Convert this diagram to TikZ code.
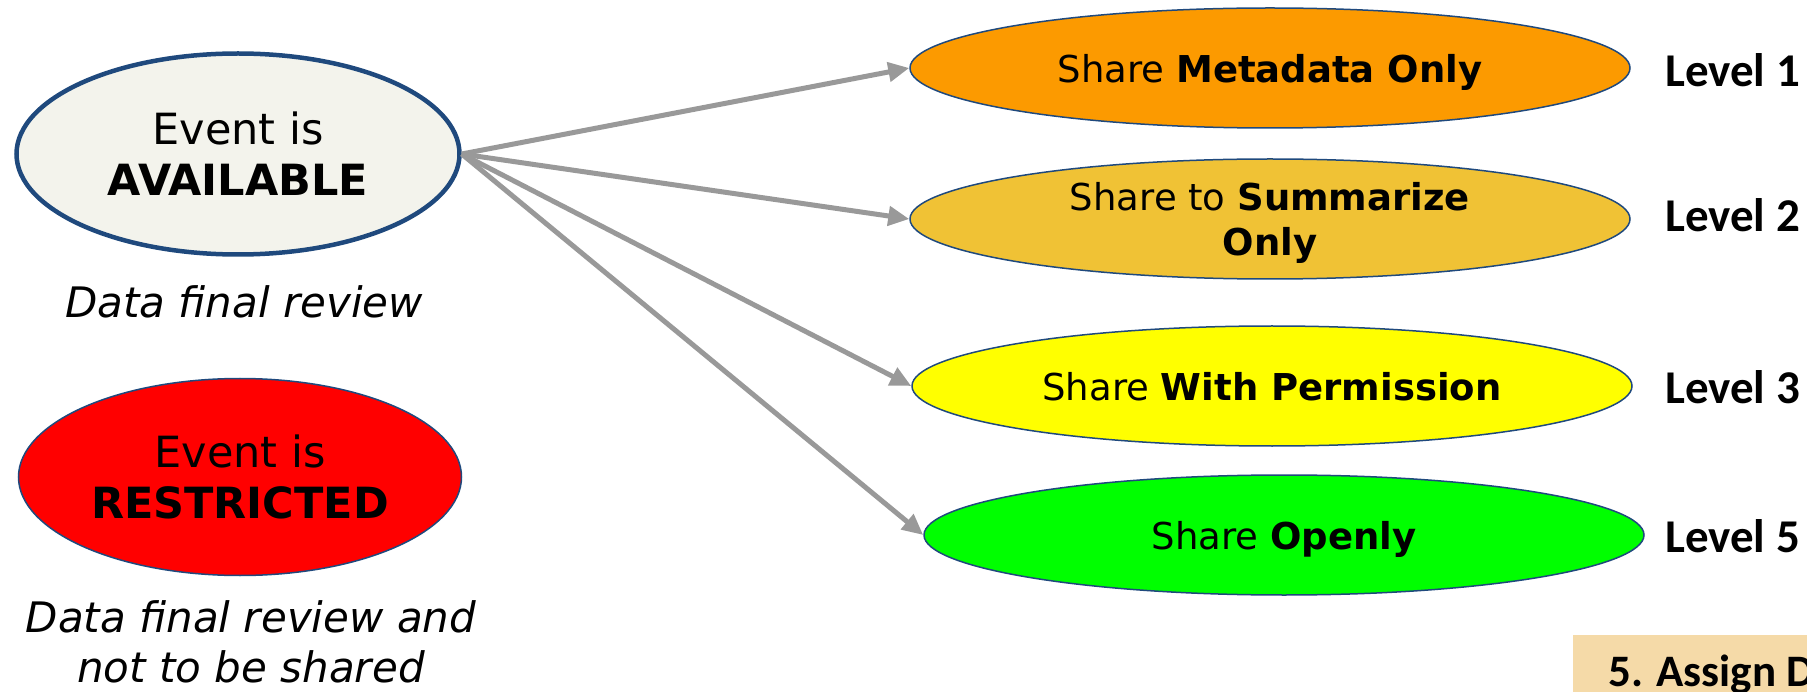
\documentclass[tikz,border=0pt]{standalone}
\usepackage{fontspec}
\setmainfont{DejaVu Sans}
\newfontfamily\calfont{Carlito}
\usetikzlibrary{shapes.geometric,arrows.meta}
\definecolor{bordblue}{HTML}{1F497D}
\definecolor{availfill}{HTML}{F3F3EC}
\definecolor{arrowgray}{HTML}{999999}
\definecolor{metaorange}{HTML}{FC9A00}
\definecolor{summgold}{HTML}{F0C235}
\definecolor{permyellow}{HTML}{FFFF00}
\definecolor{opengreen}{HTML}{00FF00}
\definecolor{boxtan}{HTML}{F5DAA8}
\begin{document}
\begin{tikzpicture}[x=1pt,y=-1pt,
  evt/.style={ellipse, draw=bordblue, line width=1.5pt, inner sep=0pt, align=center,
    font=\fontsize{43}{51}\selectfont},
  share/.style={ellipse, draw=bordblue, line width=1.5pt, minimum width=720pt,
    minimum height=120pt, inner sep=0pt, align=center, text depth=0pt,
    font=\fontsize{37}{45}\selectfont},
  lvl/.style={anchor=west, inner sep=0pt, font=\calfont\bfseries\fontsize{47}{56}\selectfont},
  capt/.style={align=center, inner sep=0pt, font=\itshape\fontsize{42}{50}\selectfont},
  arr/.style={draw=arrowgray, line width=5pt, -{Triangle[length=21pt,width=19pt]}}
]
\useasboundingbox (0,0) rectangle (1807,692);

% left ellipses
\node[evt, fill=availfill, line width=4.5pt, minimum width=443pt, minimum height=201pt]
  (avail) at (238,154) {Event is\\\textbf{AVAILABLE}};
\node[capt] (availcap) at (244,302) {Data final review};

\node[evt, fill=red, minimum width=443pt, minimum height=197pt]
  (restr) at (240,477) {Event is\\\textbf{RESTRICTED}};
\node[capt] (restrcap) at (251,642) {Data final review and\\not to be shared};

% right ellipses
\node[share, fill=metaorange] (meta) at (1270,68) {Share \textbf{Metadata Only}};
\node[share, fill=summgold] (summ) at (1270,219) {Share to \textbf{Summarize}\\\textbf{Only}};
\node[share, fill=permyellow] (perm) at (1272,386) {Share \textbf{With Permission}};
\node[share, fill=opengreen] (open) at (1284,535) {Share \textbf{Openly}};

% levels
\node[lvl] (l1) at (1665,70) {Level 1};
\node[lvl] (l2) at (1665,215) {Level 2};
\node[lvl] (l3) at (1665,387) {Level 3};
\node[lvl] (l5) at (1665,536) {Level 5};

% arrows
\draw[arr] (avail.east) -- (meta.west);
\draw[arr] (avail.east) -- (summ.west);
\draw[arr] (avail.east) -- (perm.west);
\draw[arr] (avail.east) -- (open.west);

% bottom-right box
\fill[boxtan] (1573,635) rectangle (1820,700);
\node[anchor=base west, inner sep=0pt, font=\calfont\bfseries\fontsize{45}{54}\selectfont]
  (assign) at (1608,686) {5. Assign D};
\end{tikzpicture}
\end{document}
